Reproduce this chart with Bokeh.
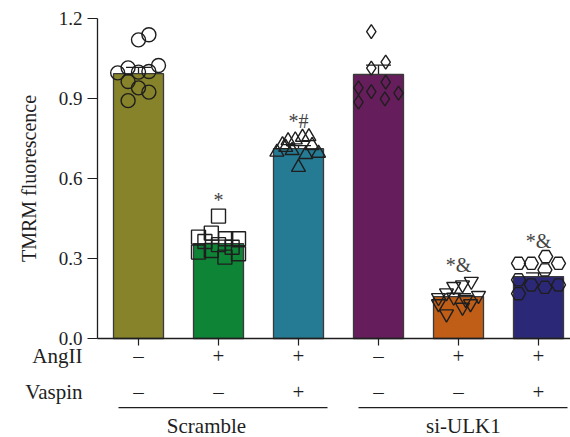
from bokeh.plotting import figure
from bokeh.models import (Range1d, Whisker, TeeHead, ColumnDataSource,
                          FixedTicker, PrintfTickFormatter, CustomLabelingPolicy)
from bokeh.core.properties import value
from bokeh.embed import file_html
from bokeh.resources import INLINE

# ---------------- data ----------------
angii = ["\u2013", "+", "+", "\u2013", "+", "+"]
vaspin = ["\u2013", "\u2013", "+", "\u2013", "\u2013", "+"]
row_names = ["AngII", "Vaspin"]
group_names = ["Scramble", "si-ULK1"]
group_members = [[0, 1, 2], [3, 4, 5]]
means = [0.993, 0.356, 0.712, 0.990, 0.157, 0.232]
sems = [0.024, 0.013, 0.011, 0.035, 0.011, 0.014]
colors = ["#86832A", "#0E8437", "#257B93", "#661D5B", "#C05E18", "#2C2878"]
markers = ["circle", "square", "triangle", "diamond", "inverted_triangle", "hex"]
sig_labels = ["", "*", "*#", "", "*&", "*&"]

g1_vals = [1.139, 1.120, 0.996, 1.015, 0.999, 1.001, 1.024, 0.964, 0.940, 0.924, 0.892]
g1_off = [0.13, 0.0, -0.26, -0.13, 0.0, 0.13, 0.25, -0.13, 0.0, 0.13, -0.13]
g2_vals = [0.459, 0.380, 0.395, 0.374, 0.374, 0.364, 0.352, 0.342, 0.324, 0.330, 0.305, 0.318]
g2_off = [0.0, -0.25, -0.09, 0.09, 0.25, -0.17, 0.0, 0.17, -0.25, -0.09, 0.08, 0.25]
g3_vals = [0.757, 0.755, 0.745, 0.742, 0.727, 0.699, 0.695, 0.705, 0.690, 0.642, 0.724, 0.717]
g3_off = [0.13, 0.05, -0.04, -0.13, -0.20, -0.27, 0.25, -0.08, 0.09, 0.0, 0.17, -0.16]
g4_vals = [1.151, 1.036, 1.014, 0.961, 0.940, 0.926, 0.920, 0.886, 0.899]
g4_off = [-0.09, 0.09, -0.09, 0.09, -0.25, -0.09, 0.25, -0.25, 0.08]
g5_vals = [0.214, 0.201, 0.195, 0.171, 0.153, 0.155, 0.146, 0.161, 0.130, 0.117, 0.130, 0.092]
g5_off = [0.16, 0.05, -0.06, -0.15, -0.25, -0.06, 0.09, 0.25, -0.25, 0.05, 0.15, -0.15]
g6_vals = [0.307, 0.282, 0.282, 0.282, 0.257, 0.220, 0.201, 0.192, 0.201, 0.168]
g6_off = [0.09, -0.25, -0.09, 0.25, 0.08, -0.25, -0.09, 0.08, 0.25, -0.25]

point_vals = [g1_vals, g2_vals, g3_vals, g4_vals, g5_vals, g6_vals]
point_offs = [g1_off, g2_off, g3_off, g4_off, g5_off, g6_off]
y_ticks = [0.0, 0.3, 0.6, 0.9, 1.2]

SERIF = "Liberation Serif"
INK = "#1e1e1e"
xs = list(range(len(means)))
X_LEFT = -0.5125  # where the y axis sits

p = figure(width=570, height=437, x_range=Range1d(-1.725, 5.4), y_range=Range1d(-0.3713, 1.2675),
           output_backend="svg", toolbar_location=None,
           min_border_left=0, min_border_right=0, min_border_top=0, min_border_bottom=0)
p.outline_line_color = None
p.xgrid.visible = False
p.ygrid.visible = False

# x axis fixed at y = 0 (tick marks only, labels are drawn as a table below)
p.xaxis.fixed_location = 0
p.xaxis.bounds = (X_LEFT, 5.4)
p.xaxis.ticker = FixedTicker(ticks=xs)
p.xaxis.major_label_policy = CustomLabelingPolicy(code="""
for (const i of Array.from(indices)) indices.unset(i)
return indices
""")
p.xaxis.major_label_standoff = 0
p.xaxis.major_tick_out = 7
p.xaxis.major_tick_in = 0
p.xaxis.minor_tick_line_color = None
p.xaxis.axis_line_color = INK
p.xaxis.major_tick_line_color = INK
p.xaxis.axis_line_width = 1.3
p.xaxis.major_tick_line_width = 1.2

# y axis fixed at the left end of the x axis
p.yaxis.fixed_location = X_LEFT
p.yaxis.bounds = (0, 1.2)
p.yaxis.ticker = FixedTicker(ticks=y_ticks)
p.yaxis.formatter = PrintfTickFormatter(format="%.1f")
p.yaxis.major_tick_out = 10
p.yaxis.major_tick_in = 0
p.yaxis.minor_tick_line_color = None
p.yaxis.axis_line_color = INK
p.yaxis.major_tick_line_color = INK
p.yaxis.axis_line_width = 1.3
p.yaxis.major_tick_line_width = 1.2
p.yaxis.major_label_text_font = SERIF
p.yaxis.major_label_text_font_size = "19px"
p.yaxis.major_label_text_color = INK
p.yaxis.major_label_standoff = 5
p.yaxis.axis_label = "TMRM fluorescence"
p.yaxis.axis_label_text_font = SERIF
p.yaxis.axis_label_text_font_style = "normal"
p.yaxis.axis_label_text_font_size = "20px"
p.yaxis.axis_label_text_color = INK
p.yaxis.axis_label_standoff = 16

# bars
p.vbar(x=xs, top=means, width=0.625, fill_color=colors, line_color="#3a3a3a", line_width=1.3)

# points (hollow markers)
for i, (vals, offs, m) in enumerate(zip(point_vals, point_offs, markers)):
    p.scatter(x=[i + o for o in offs], y=vals, marker=m, size=14,
              fill_color=None, line_color=INK, line_width=1.4)

# error bars
src = ColumnDataSource(dict(x=xs, lower=[m - s for m, s in zip(means, sems)],
                            upper=[m + s for m, s in zip(means, sems)]))
p.add_layout(Whisker(base="x", lower="lower", upper="upper", source=src,
                     line_color=INK, line_width=1.3,
                     upper_head=TeeHead(size=25, line_color=INK, line_width=1.3),
                     lower_head=TeeHead(size=25, line_color=INK, line_width=1.3)))

# significance labels
sx = [i for i, s in enumerate(sig_labels) if s]
sy = [max(point_vals[i]) + 0.06 for i in sx]
st = [sig_labels[i] for i in sx]
p.text(x=sx, y=sy, text=st, text_align="center", text_baseline="middle",
       text_font=value(SERIF), text_font_size="20px", text_color="#444444")

# treatment table
row_y = [-0.0675, -0.2025]
p.text(x=xs, y=[row_y[0]] * len(xs), text=angii, text_align="center", text_baseline="middle",
       text_font=value(SERIF), text_font_size="21px", text_color=INK)
p.text(x=xs, y=[row_y[1]] * len(xs), text=vaspin, text_align="center", text_baseline="middle",
       text_font=value(SERIF), text_font_size="21px", text_color=INK)
p.text(x=[-0.7, -0.7], y=row_y, text=row_names, text_align="right", text_baseline="middle",
       text_font=value(SERIF), text_font_size="21px", text_color=INK)

lx0 = [mem[0] - 0.25 for mem in group_members]
lx1 = [mem[-1] + 0.3625 for mem in group_members]
p.segment(x0=lx0, y0=[-0.259] * 2, x1=lx1, y1=[-0.259] * 2, line_color=INK, line_width=1.3)
name_x = [0.85, 4.06]
p.text(x=name_x, y=[-0.33] * 2, text=group_names, text_align="center", text_baseline="middle",
       text_font=value(SERIF), text_font_size="21px", text_color=INK)

open("out.html", "w").write(file_html(p, INLINE))
